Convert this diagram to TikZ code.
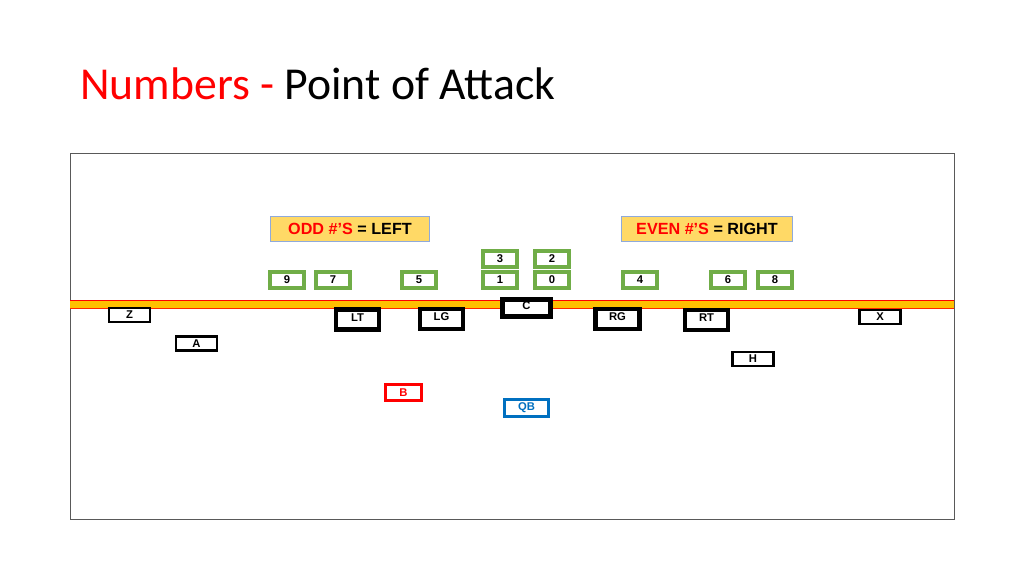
\documentclass[tikz,border=0pt]{standalone}
\usepackage{fontspec}
\setmainfont{Liberation Sans}
\newfontfamily\titlefont{Carlito}
\definecolor{losorange}{HTML}{FFC000}
\definecolor{holegreen}{HTML}{70AD47}
\definecolor{qbblue}{HTML}{0070C0}
\definecolor{notefill}{HTML}{FFD966}
\definecolor{noteedge}{HTML}{8FAADC}
\tikzset{
  hole/.style={draw=holegreen, line width=2.8pt, fill=white, inner sep=0pt,
    minimum width=0.85cm, minimum height=0.4cm, font=\bfseries\fontsize{8}{9}\selectfont},
  lineman/.style={draw=black, line width=3.4pt, fill=white, inner sep=0pt,
    minimum width=1.075cm, minimum height=0.5cm, font=\bfseries\fontsize{8}{9}\selectfont},
  skill/.style={draw=black, line width=1.6pt, fill=white, inner sep=0pt,
    minimum width=1.025cm, minimum height=0.35cm, font=\bfseries\fontsize{8}{9}\selectfont},
  back/.style={line width=2.1pt, fill=white, inner sep=0pt,
    minimum width=0.9cm, minimum height=0.4cm, font=\bfseries\fontsize{8}{9}\selectfont},
  note/.style={draw=noteedge, fill=notefill, line width=0.7pt, inner sep=0pt,
    minimum width=3.95cm, minimum height=0.625cm, font=\bfseries\fontsize{11.5}{13}\selectfont}
}
\begin{document}
\begin{tikzpicture}[x=0.025cm, y=-0.025cm]
  \useasboundingbox (0,0) rectangle (1024,576);
  % title
  \node[anchor=base west, inner sep=0pt, font=\titlefont\fontsize{32.5}{38}\selectfont] (title) at (80,100)
    {\textcolor{red}{Numbers -} Point of Attack};
  % field
  \draw[black!65, line width=0.7pt] (70,153) rectangle (954,519);
  \fill[losorange] (70,300.5) rectangle (954,308);
  \draw[red, line width=0.5pt] (70,300.5) -- (954,300.5);
  \draw[red!80!losorange, line width=0.5pt] (70,308) -- (954,308);
  % rules
  \node[note] (odd) at (350,229) {\textcolor{red}{ODD \#’S} = LEFT};
  \node[note, minimum width=4.25cm] (even) at (707,229) {\textcolor{red}{EVEN \#’S} = RIGHT};
  % holes
  \node[hole] (h9) at (287,280) {9};
  \node[hole] (h7) at (333,280) {7};
  \node[hole] (h5) at (419,280) {5};
  \node[hole] (h3) at (500,259) {3};
  \node[hole] (h1) at (500,280) {1};
  \node[hole] (h2) at (552,259) {2};
  \node[hole] (h0) at (552,280) {0};
  \node[hole] (h4) at (640,280) {4};
  \node[hole] (h6) at (728,280) {6};
  \node[hole] (h8) at (775,280) {8};
  % offense
  \node[lineman, minimum width=1.2cm, minimum height=0.425cm, text height=1.3ex, text depth=5pt] (c) at (526.5,308) {C};
  \node[lineman, text depth=2pt] (lt) at (357.5,319.5) {LT};
  \node[lineman, text depth=4pt] (lg) at (441.5,319) {LG};
  \node[lineman, minimum width=1.1cm, text depth=4pt] (rg) at (617.5,319) {RG};
  \node[lineman, text depth=4pt] (rt) at (706.5,320) {RT};
  \node[skill] (z) at (129.5,315) {Z};
  \node[skill] (a) at (196.5,343.5) {A};
  \node[skill] (x) at (880,317) {X};
  \node[skill] (h) at (753,359) {H};
  \node[back, draw=red, text=red] (b) at (403.5,392.5) {B};
  \node[back, draw=qbblue, text=qbblue, minimum width=1.1cm, minimum height=0.425cm] (qb) at (526.5,408) {QB};
\end{tikzpicture}
\end{document}
